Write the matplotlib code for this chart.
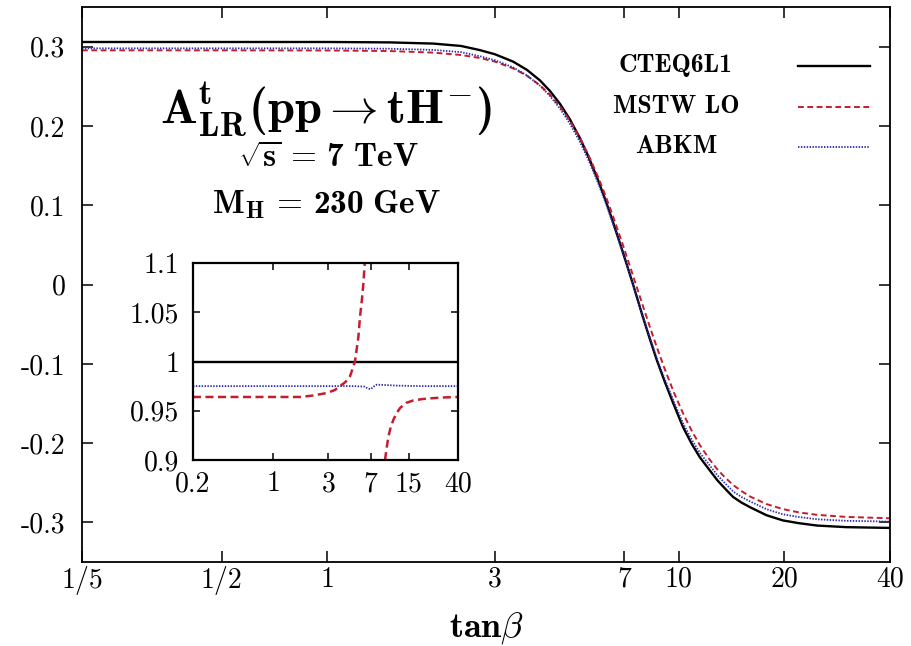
import matplotlib
matplotlib.use("Agg")
import matplotlib.pyplot as plt
from matplotlib.lines import Line2D

plt.rcParams['font.family'] = 'serif'
plt.rcParams['font.serif'] = ['cmr10', 'DejaVu Serif']
plt.rcParams['mathtext.fontset'] = 'custom'
plt.rcParams['mathtext.rm'] = 'cmr10'
plt.rcParams['mathtext.bf'] = 'cmb10'
plt.rcParams['mathtext.it'] = 'cmmi10'
plt.rcParams['mathtext.fallback'] = 'cm'
plt.rcParams['axes.unicode_minus'] = False
plt.rcParams['axes.formatter.use_mathtext'] = False

# ---- asymmetry A_LR^t versus tan(beta) ----
tanb = [0.2, 0.5, 1.0, 1.5, 2.0, 2.4, 2.72, 3.0, 3.38, 3.7, 4.03, 4.3, 4.59,
        4.9, 5.24, 5.55, 5.9, 6.2, 6.5, 6.95, 7.42, 7.9, 8.3, 8.68, 9.14,
        9.7, 10.3, 10.9, 11.5, 12.2, 12.9, 13.6, 14.3, 15.1, 16.0, 17.8,
        19.8, 22.0, 24.8, 30.0, 40.0]
cteq6l1 = [0.306, 0.306, 0.306, 0.3055, 0.304, 0.301, 0.2957, 0.2905,
           0.2812, 0.2708, 0.2575, 0.2443, 0.2282, 0.2086, 0.1845, 0.1604,
           0.1315, 0.1057, 0.0793, 0.0399, 0.000, -0.040, -0.070, -0.096,
           -0.123, -0.152, -0.180, -0.201, -0.218, -0.233, -0.247, -0.258,
           -0.268, -0.275, -0.281, -0.291, -0.2975, -0.301, -0.304, -0.306,
           -0.307]
mstw_lo = [0.2955, 0.2955, 0.2953, 0.2946, 0.2926, 0.2896, 0.2858, 0.2812,
           0.2727, 0.2634, 0.2513, 0.2395, 0.2249, 0.2069, 0.1847, 0.1624,
           0.1356, 0.1115, 0.0866, 0.0492, 0.0110, -0.0259, -0.0546,
           -0.0796, -0.1071, -0.1363, -0.1626, -0.1845, -0.2026, -0.2195,
           -0.2333, -0.2439, -0.2528, -0.2605, -0.2675, -0.2769, -0.2832,
           -0.2874, -0.2905, -0.2931, -0.2948]
abkm = [0.298, 0.298, 0.298, 0.2975, 0.296, 0.2932, 0.288, 0.283, 0.2739,
        0.2638, 0.2508, 0.238, 0.2223, 0.2032, 0.1797, 0.1562, 0.1281,
        0.103, 0.0772, 0.0389, 0.000, -0.039, -0.0682, -0.0935, -0.1198,
        -0.148, -0.1753, -0.1958, -0.2123, -0.2269, -0.2406, -0.2513,
        -0.261, -0.2679, -0.2737, -0.2834, -0.2898, -0.2932, -0.2961,
        -0.298, -0.299]

# ---- ratios to CTEQ6L1 (inset) ----
ratio_x = [0.2, 40.0]
ratio_cteq = [1.0, 1.0]
abkm_ratio_x = [0.2, 1.0, 3.0, 5.0, 6.2, 6.6, 7.0, 7.4, 7.9, 9.0, 12.0, 20.0, 40.0]
abkm_ratio = [0.975, 0.975, 0.975, 0.975, 0.9745, 0.9725, 0.972, 0.9745,
              0.9765, 0.9762, 0.9755, 0.975, 0.975]
mstw_ratio_lo_x = [0.2, 1.0, 1.7, 2.22, 2.9, 3.4, 3.78, 4.2, 4.62, 5.1,
                   5.46, 5.64, 5.85, 6.03, 6.2]
mstw_ratio_lo = [0.964, 0.964, 0.964, 0.9655, 0.968, 0.971, 0.975, 0.979,
                 0.985, 1.0, 1.025, 1.0455, 1.062, 1.079, 1.1]
mstw_ratio_hi_x = [9.3, 9.6, 9.95, 10.4, 11.0, 11.8, 12.6, 14.2, 16.4,
                   20.0, 24.3, 30.0, 40.0]
mstw_ratio_hi = [0.9, 0.912, 0.9237, 0.933, 0.941, 0.948, 0.953, 0.958,
                 0.9605, 0.962, 0.9628, 0.9635, 0.964]

xticks = [0.2, 0.5, 1, 3, 7, 10, 20, 40]
xticklabels = ['1/5', '1/2', '1', '3', '7', '10', '20', '40']
yticks = [0.3, 0.2, 0.1, 0.0, -0.1, -0.2, -0.3]
yticklabels = ['0.3', '0.2', '0.1', '0', '-0.1', '-0.2', '-0.3']
inset_xticks = [0.2, 1, 3, 7, 15, 40]
inset_xticklabels = ['0.2', '1', '3', '7', '15', '40']
inset_yticks = [0.9, 0.95, 1.0, 1.05, 1.1]
inset_yticklabels = ['0.9', '0.95', '1', '1.05', '1.1']

labels = ['CTEQ6L1', 'MSTW LO', 'ABKM']
RED = '#c41c30'
BLUE = '#2c2ca8'

fig = plt.figure(figsize=(9.12, 6.46), dpi=100)
ax = fig.add_axes([0.0899, 0.130, 0.886, 0.859])

ax.plot(tanb, cteq6l1, color='black', lw=1.7, solid_capstyle='butt')
ax.plot(tanb, mstw_lo, color=RED, lw=1.4, dashes=(3.0, 1.8))
ax.plot(tanb, abkm, color=BLUE, lw=1.3, dashes=(0.8, 0.8))

ax.set_xscale('log')
ax.set_xlim(0.2, 40)
ax.set_ylim(-0.35, 0.35)
ax.set_xticks(xticks)
ax.set_xticklabels(xticklabels)
ax.xaxis.set_minor_locator(matplotlib.ticker.NullLocator())
ax.set_yticks(yticks)
ax.set_yticklabels(yticklabels)
ax.tick_params(direction='in', top=True, right=True, length=8, width=1.1,
               labelsize=20)
ax.tick_params(axis='y', pad=12)
ax.tick_params(axis='x', pad=3)
for sp in ax.spines.values():
    sp.set_linewidth(1.3)
ax.set_xlabel(r'$\mathbf{tan}\beta$', fontsize=26, labelpad=11)

# annotations
ax.text(0.302, 0.791, r'$\mathbf{A^{t}_{LR}(pp}\rightarrow\mathbf{tH^{-})}$',
        transform=ax.transAxes, ha='center', va='baseline', fontsize=35)
ax.text(0.305, 0.712, r'$\sqrt{\mathbf{s}}\,=\,\mathbf{7\ TeV}$',
        transform=ax.transAxes, ha='center', va='baseline', fontsize=24)
ax.text(0.302, 0.629, r'$\mathbf{M_H}\,=\,\mathbf{230\ GeV}$',
        transform=ax.transAxes, ha='center', va='baseline', fontsize=24)

# key
key_rows = [0.894, 0.820, 0.748]
key_styles = [dict(color='black', lw=1.7),
              dict(color=RED, lw=1.4, dashes=(3.0, 1.8)),
              dict(color=BLUE, lw=1.3, dashes=(0.8, 0.8))]
for lab, yk, st in zip(labels, key_rows, key_styles):
    ax.text(0.735, yk, lab, family='cmb10', transform=ax.transAxes,
            ha='center', va='center', fontsize=18.5)
    ax.add_line(Line2D([0.886, 0.975], [yk, yk], transform=ax.transAxes, **st))

# inset: ratio to CTEQ6L1
ins = fig.add_axes([0.2116, 0.2879, 0.2906, 0.3050])
ins.plot(ratio_x, ratio_cteq, color='black', lw=1.7)
ins.plot(mstw_ratio_lo_x, mstw_ratio_lo, color=RED, lw=1.8, dashes=(3.2, 1.8))
ins.plot(mstw_ratio_hi_x, mstw_ratio_hi, color=RED, lw=1.8, dashes=(3.2, 1.8))
ins.plot(abkm_ratio_x, abkm_ratio, color=BLUE, lw=1.3, dashes=(0.8, 0.8))
ins.set_xscale('log')
ins.set_xlim(0.2, 40)
ins.set_ylim(0.9, 1.1)
ins.set_xticks(inset_xticks)
ins.set_xticklabels(inset_xticklabels)
ins.xaxis.set_minor_locator(matplotlib.ticker.NullLocator())
ins.set_yticks(inset_yticks)
ins.set_yticklabels(inset_yticklabels)
ins.tick_params(direction='in', top=True, right=True, length=5, width=1.1,
                labelsize=20)
ins.tick_params(axis='y', pad=10)
ins.tick_params(axis='x', pad=8)
for sp in ins.spines.values():
    sp.set_linewidth(1.6)

fig.savefig('out.png', dpi=100)
